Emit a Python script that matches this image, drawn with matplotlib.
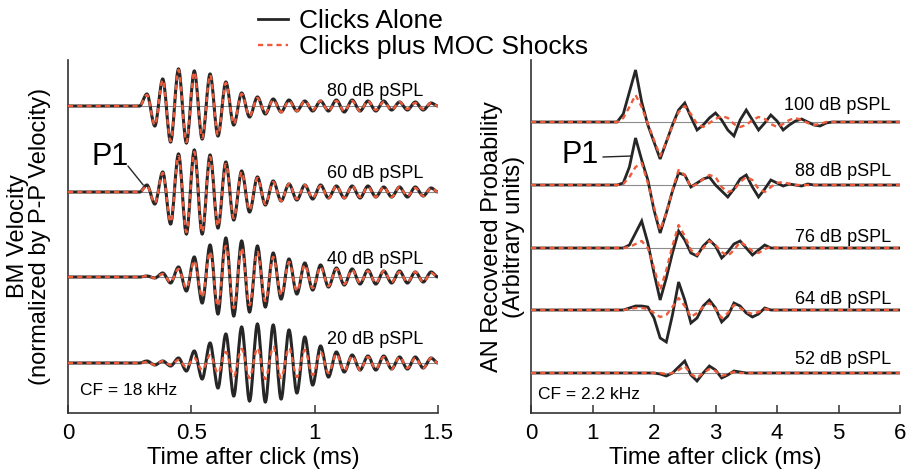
# -*- coding: utf-8 -*-
# moc_clicks.py
# BM velocity and AN recovered probability for clicks with / without MOC shocks

import numpy as np
import matplotlib.pyplot as plt
from matplotlib.path import Path
from matplotlib.patches import PathPatch

plt.rcParams['font.family'] = ['Liberation Sans', 'DejaVu Sans']

BLACK = '#262626'
RED = '#EE5B3B'
GREY = '#8c8c8c'
DASH = (2.2, 1.7)

# ---------------- left panel: BM velocity, CF = 18 kHz ----------------
bm_levels = ['80 dB pSPL', '60 dB pSPL', '40 dB pSPL', '20 dB pSPL']

# times (ms) of the turning points of the waveforms
bm_time = [0.0, 0.29,
           0.320, 0.352, 0.384, 0.416, 0.448, 0.480, 0.512, 0.544, 0.576, 0.608,
           0.640, 0.672, 0.704, 0.736, 0.768, 0.800, 0.832, 0.864, 0.896, 0.928,
           0.960, 0.992, 1.024, 1.056, 1.088, 1.120, 1.152, 1.184, 1.216, 1.248,
           1.280, 1.312, 1.344, 1.376, 1.408, 1.440, 1.472,
           1.50]

bm_alone_80 = [0, 0,
               12, -20, 27, -36, 37, -37, 35, -33, 32, -30,
               24, -19, 13, -11, 9, -8, 7, -6, 6, -5,
               5, -5, 5, -5, 6, -6, 6, -5, 5, -5,
               5, -4, 4, -4, 4, -4, 3,
               0]
bm_moc_80 = [0, 0,
             11, -19, 26, -35, 36, -36, 34, -32, 31, -29,
             23, -18, 12, -10, 8, -7, 6, -6, 5, -5,
             5, -4, 5, -5, 5, -5, 5, -5, 5, -4,
             4, -4, 4, -3, 3, -3, 3,
             0]

bm_alone_60 = [0, 0,
               7, -12, 20, -32, 38, -42, 42, -42, 37, -36,
               30, -28, 21, -20, 15, -13, 11, -9, 8, -8,
               7, -7, 7, -6, 6, -6, 6, -6, 6, -5,
               5, -5, 5, -5, 5, -4, 4,
               0]
bm_moc_60 = [0, 0,
             6, -11, 19, -30, 36, -40, 40, -40, 35, -34,
             28, -26, 20, -18, 14, -12, 10, -9, 8, -7,
             7, -6, 6, -6, 6, -6, 6, -5, 5, -5,
             5, -5, 5, -4, 4, -4, 4,
             0]

bm_alone_40 = [0, 0,
               1, -1, 4, -6, 10, -14, 20, -26, 32, -37,
               39, -39, 36, -35, 31, -30, 24, -22, 18, -17,
               14, -13, 12, -10, 9, -8, 8, -7, 7, -7,
               6, -6, 6, -6, 5, -5, 5,
               0]
bm_moc_40 = [0, 0,
             1, -1, 3, -5, 8, -11, 16, -20, 25, -29,
             31, -31, 29, -28, 25, -24, 20, -18, 15, -14,
             12, -11, 10, -9, 8, -7, 7, -6, 6, -6,
             6, -5, 5, -5, 5, -5, 4,
             0]

bm_alone_20 = [0, 0,
               2, -2, 2, -3, 5, -8, 12, -16, 20, -25,
               29, -33, 36, -38, 39, -39, 38, -36, 33, -30,
               26, -22, 17, -14, 11, -9, 8, -7, 7, -7,
               7, -6, 6, -6, 6, -5, 5,
               0]
bm_moc_20 = [0, 0,
             1, -2, 2, -2, 3, -4, 5, -7, 8, -10,
             11, -13, 14, -15, 15, -16, 16, -15, 15, -14,
             13, -12, 11, -10, 9, -8, 7, -7, 6, -6,
             6, -6, 6, -5, 5, -5, 5,
             0]

# ---------------- right panel: AN recovered probability, CF = 2.2 kHz ----------------
an_levels = ['100 dB pSPL', '88 dB pSPL', '76 dB pSPL', '64 dB pSPL', '52 dB pSPL']

an_time = [0.0,
           1.3, 1.4, 1.5, 1.6, 1.7, 1.8, 1.9, 2.0, 2.1, 2.2,
           2.3, 2.4, 2.5, 2.6, 2.7, 2.8, 2.9, 3.0, 3.1, 3.2,
           3.3, 3.4, 3.5, 3.6, 3.7, 3.8, 3.9, 4.0, 4.1, 4.2,
           4.3, 4.4, 4.5, 4.6, 4.7, 4.8, 4.9, 5.0,
           6.0]

an_alone_100 = [0,
                0, 0, 8, 30, 52, 20, -3, -20, -37, -20,
                -3, 12, 19, 5, -8, -3, 4, 9, 2, -8,
                -14, 2, 12, 2, -8, -1, 7, 1, -8, -3,
                1, 3, 0, -3, -4, -1, 0, 0,
                0]
an_moc_100 = [0,
              0, 0, 4, 15, 27, 15, -2, -18, -34, -20,
              -4, 10, 16, 8, -2, -5, -1, 3, 6, 4,
              -2, -5, -3, 2, 5, 3, -2, -5, -2, 2,
              4, 2, -1, -3, -2, 0, 0, 0,
              0]

an_alone_88 = [0,
               0, 0, 2, 18, 47, 25, 5, -25, -48, -28,
               -6, 12, 10, -2, 2, 6, 8, 0, -6, -12,
               -4, 6, 10, -2, -12, -4, 5, 2, -1, 1,
               0, -1, 1, 0, 0, 0, 0, 0,
               0]
an_moc_88 = [0,
             0, 0, 1, 8, 18, 22, 2, -22, -45, -28,
             -5, 15, 10, -2, 1, 6, 10, 8, -2, -7,
             -5, 3, 8, 5, -4, -7, -2, 2, 3, 1,
             0, 0, 0, 0, 0, 0, 0, 0,
             0]

an_alone_76 = [0,
               0, 0, 0, 3, 15, 27, 5, -25, -52, -30,
               -5, 17, 8, -5, -8, 2, 8, 2, -10, -4,
               4, 7, 0, -7, -2, 3, 0, 0, 0, 0,
               0, 0, 0, 0, 0, 0, 0, 0,
               0]
an_moc_76 = [0,
             0, 0, 0, 1, 4, 7, 0, -20, -42, -22,
             2, 23, 12, -2, -7, 0, 7, 3, -4, -8,
             -2, 6, 2, -3, -5, -1, 1, 0, 0, 0,
             0, 0, 0, 0, 0, 0, 0, 0,
             0]

an_alone_64 = [0,
               0, 0, 0, 2, 4, 4, 3, -8, -28, -32,
               -5, 28, 10, -13, -8, 4, 10, 2, -12, -6,
               7, 4, -3, -7, -4, 2, 0, 0, 0, 0,
               0, 0, 0, 0, 0, 0, 0, 0,
               0]
an_moc_64 = [0,
             0, 0, 0, 1, 2, 2, 1, -3, -7, -5,
             3, 12, 4, -7, -3, 3, 7, 1, -8, -3,
             5, 2, -2, -4, -2, 1, 0, 0, 0, 0,
             0, 0, 0, 0, 0, 0, 0, 0,
             0]

an_alone_52 = [0,
               0, 0, 0, 0, 0, 0, 0, 0, -1, -3,
               0, 6, 12, -2, -8, 0, 7, 3, -5, -2,
               2, 1, 0, 0, 0, 0, 0, 0, 0, 0,
               0, 0, 0, 0, 0, 0, 0, 0,
               0]
an_moc_52 = [0,
             0, 0, 0, 0, 0, 0, 0, 0, 0, -1,
             0, 3, 7, -1, -5, 0, 4, 2, -3, -1,
             1, 0, 0, 0, 0, 0, 0, 0, 0, 0,
             0, 0, 0, 0, 0, 0, 0, 0,
             0]

# layout: baseline of each trace and height of its level label (axes units, 1 = 1 px)
bm_offsets = [307, 221, 136, 50]
bm_label_y = [321, 239, 154, 74]
an_offsets = [291, 228, 165, 103, 40]
an_label_y = [307, 242, 176, 113, 53]


def turning_point_path(t, y):
    """Bezier path through the turning points, flat at each one (smooth oscillation)."""
    verts = [(t[0], y[0])]
    codes = [Path.MOVETO]
    for i in range(1, len(t)):
        dt = t[i] - t[i - 1]
        verts += [(t[i - 1] + dt / 3, y[i - 1]), (t[i] - dt / 3, y[i]), (t[i], y[i])]
        codes += [Path.CURVE4] * 3
    return Path(verts, codes)


def draw_trace(ax, t, alone, moc, offset, smooth=False):
    """One baseline plus the 'alone' (solid) and 'MOC' (dashed) curves."""
    ax.axhline(offset, color=GREY, lw=0.8, zorder=1)
    y_alone = np.asarray(alone) + offset
    y_moc = np.asarray(moc) + offset
    if smooth:
        ax.add_patch(PathPatch(turning_point_path(t, y_alone), fill=False,
                               edgecolor=BLACK, lw=2.2, zorder=2))
        ax.add_patch(PathPatch(turning_point_path(t, y_moc), fill=False,
                               edgecolor=RED, lw=1.7, linestyle=(0, DASH), zorder=3))
    else:
        ax.plot(t, y_alone, color=BLACK, lw=2.0, solid_joinstyle='miter', zorder=2)
        ax.plot(t, y_moc, color=RED, lw=1.7, dashes=DASH, zorder=3)


def style_axes(ax, xmax, ticks, ticklabels):
    ax.set_xlim(0, xmax)
    ax.set_ylim(0, 353)
    for side in ('top', 'right'):
        ax.spines[side].set_visible(False)
    for side in ('left', 'bottom'):
        ax.spines[side].set_linewidth(1.2)
        ax.spines[side].set_color('#333333')
    ax.set_yticks([])
    ax.set_xticks(ticks)
    ax.set_xticklabels(ticklabels)
    ax.tick_params(axis='x', direction='in', length=6, width=1.1,
                   labelsize=16, pad=7, color='#333333')
    ax.set_xlabel('Time after click (ms)', fontsize=17, labelpad=2)


fig = plt.figure(figsize=(9.15, 4.73), dpi=100)
ax_bm = fig.add_axes([68 / 915, 60 / 473, 370 / 915, 353 / 473])
ax_an = fig.add_axes([531 / 915, 60 / 473, 369 / 915, 353 / 473])

bm_alone = [bm_alone_80, bm_alone_60, bm_alone_40, bm_alone_20]
bm_moc = [bm_moc_80, bm_moc_60, bm_moc_40, bm_moc_20]
for i, level in enumerate(bm_levels):
    draw_trace(ax_bm, bm_time, bm_alone[i], bm_moc[i], bm_offsets[i], smooth=True)
    ax_bm.text(1.44, bm_label_y[i], level, ha='right', va='center', fontsize=13)

an_alone = [an_alone_100, an_alone_88, an_alone_76, an_alone_64, an_alone_52]
an_moc = [an_moc_100, an_moc_88, an_moc_76, an_moc_64, an_moc_52]
for i, level in enumerate(an_levels):
    draw_trace(ax_an, an_time, an_alone[i], an_moc[i], an_offsets[i])
    ax_an.text(5.85, an_label_y[i], level, ha='right', va='center', fontsize=13)

style_axes(ax_bm, 1.5, [0, 0.5, 1, 1.5], ['0', '0.5', '1', '1.5'])
style_axes(ax_an, 6, [0, 1, 2, 3, 4, 5, 6], ['0', '1', '2', '3', '4', '5', '6'])

ax_bm.set_ylabel('BM Velocity\n(normalized by P-P Velocity)', fontsize=17,
                 linespacing=1.0, labelpad=12)
ax_an.set_ylabel('AN Recovered Probability\n(Arbitrary units)', fontsize=17,
                 linespacing=1.0, labelpad=4)

ax_bm.text(0.05, 23, 'CF = 18 kHz', ha='left', va='center', fontsize=12.5)
ax_an.text(0.11, 19, 'CF = 2.2 kHz', ha='left', va='center', fontsize=12.5)

# P1 markers with their leader lines
ax_bm.text(0.17, 256, 'P1', ha='center', va='center', fontsize=22)
ax_bm.annotate('', xy=(0.305, 228), xytext=(0.243, 247),
               arrowprops=dict(arrowstyle='-', color=BLACK, lw=1.0,
                               shrinkA=0, shrinkB=0))
ax_an.text(0.8, 258, 'P1', ha='center', va='center', fontsize=22)
ax_an.annotate('', xy=(1.64, 257), xytext=(1.17, 256),
               arrowprops=dict(arrowstyle='-', color=BLACK, lw=1.0,
                               shrinkA=0, shrinkB=0))

# legend at the top
h_alone, = ax_bm.plot([], [], color=BLACK, lw=2.0)
h_moc, = ax_bm.plot([], [], color=RED, lw=1.7, dashes=DASH)
fig.legend([h_alone, h_moc], ['Clicks Alone', 'Clicks plus MOC Shocks'],
           loc='upper left', bbox_to_anchor=(240 / 915, 1.02), frameon=False,
           fontsize=19, handlelength=1.1, handletextpad=0.45, labelspacing=0.08,
           borderpad=0.2)

fig.savefig('out.png', dpi=100)
